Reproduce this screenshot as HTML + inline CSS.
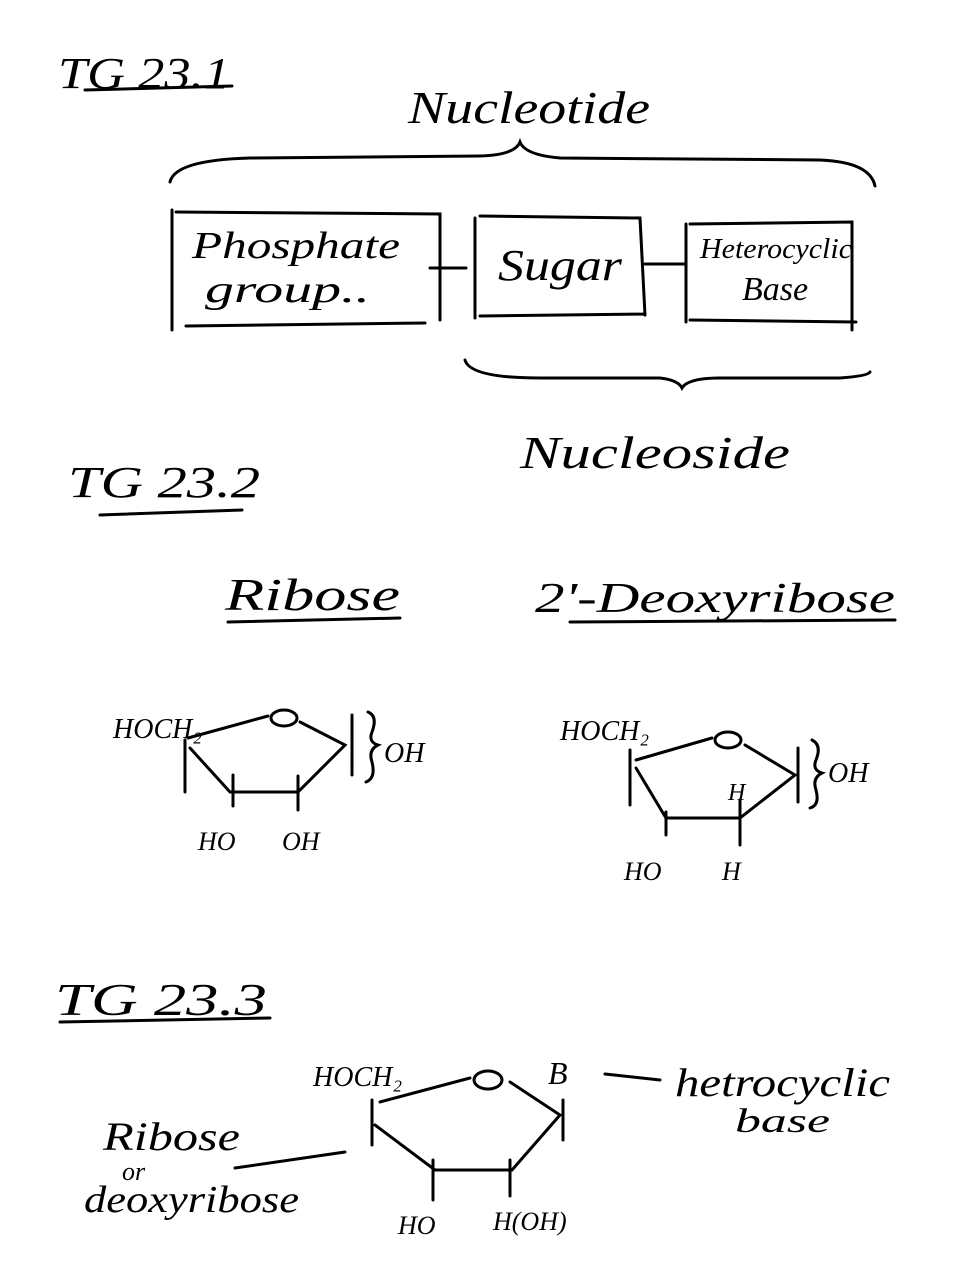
<!DOCTYPE html>
<html><head><meta charset="utf-8"><style>
html,body{margin:0;padding:0;background:#fff;}
svg{display:block;}
text{font-family:"Liberation Serif",serif;font-style:italic;fill:#000;}
</style></head><body>
<svg width="972" height="1284" viewBox="0 0 972 1284" xmlns="http://www.w3.org/2000/svg">
<g stroke="#000" stroke-width="3" fill="none" stroke-linecap="round">
<line x1="85" y1="90" x2="232" y2="86"/>
<path d="M170 182 Q175 160 250 158 L480 156 Q515 155 520 142 Q525 155 560 158 L820 160 Q870 162 875 186"/>
<path d="M172 210 V330 M176 212 L440 214 V320 M186 326 L425 323"/>
<path d="M475 218 V318 M480 216 L640 218 L645 315 M480 316 L645 314"/>
<path d="M686 224 V322 M690 224 L852 222 V330 M690 320 L856 322"/>
<line x1="430" y1="268" x2="466" y2="268"/>
<line x1="645" y1="264" x2="686" y2="264"/>
<path d="M465 360 Q470 378 540 378 L660 378 Q678 380 682 388 Q688 378 720 378 L840 378 Q868 376 870 372"/>
<line x1="100" y1="515" x2="242" y2="510"/>
<line x1="228" y1="622" x2="400" y2="618"/>
<line x1="570" y1="622" x2="895" y2="620"/>
<line x1="188" y1="738" x2="268" y2="716"/>
<path d="M300 722 L345 745 L298 792 L230 792 L190 748"/>
<line x1="185" y1="740" x2="185" y2="792"/>
<line x1="352" y1="715" x2="352" y2="775"/>
<line x1="233" y1="775" x2="233" y2="806"/>
<line x1="298" y1="776" x2="298" y2="810"/>
<path d="M368 712 Q378 716 372 732 Q368 742 378 745 Q368 750 372 762 Q376 778 366 782"/>
<line x1="636" y1="760" x2="712" y2="738"/>
<path d="M745 745 L795 775 L740 818 L666 818 L636 768"/>
<line x1="630" y1="750" x2="630" y2="805"/>
<line x1="798" y1="748" x2="798" y2="802"/>
<line x1="666" y1="812" x2="666" y2="835"/>
<line x1="740" y1="800" x2="740" y2="845"/>
<path d="M812 740 Q822 745 816 760 Q812 770 822 773 Q812 778 816 790 Q820 805 810 808"/>
<line x1="60" y1="1022" x2="270" y2="1018"/>
<line x1="380" y1="1102" x2="470" y2="1078"/>
<path d="M510 1082 L560 1115 L512 1170 L435 1170 L375 1125"/>
<line x1="372" y1="1100" x2="372" y2="1145"/>
<line x1="563" y1="1100" x2="563" y2="1140"/>
<line x1="433" y1="1160" x2="433" y2="1200"/>
<line x1="510" y1="1160" x2="510" y2="1196"/>
<line x1="605" y1="1074" x2="660" y2="1080"/>
<line x1="235" y1="1168" x2="345" y2="1152"/>
<ellipse cx="488" cy="1080" rx="14" ry="9"/>
<ellipse cx="284" cy="718" rx="13" ry="8"/>
<ellipse cx="728" cy="740" rx="13" ry="8"/>
</g>
<text x="58" y="88" font-size="44" textLength="172" lengthAdjust="spacingAndGlyphs">TG 23.1</text>
<text x="408" y="123" font-size="46" textLength="242" lengthAdjust="spacingAndGlyphs">Nucleotide</text>
<text x="192" y="258" font-size="38" textLength="208" lengthAdjust="spacingAndGlyphs">Phosphate</text>
<text x="205" y="302" font-size="38" textLength="165" lengthAdjust="spacingAndGlyphs">group..</text>
<text x="498" y="280" font-size="44" textLength="124" lengthAdjust="spacingAndGlyphs">Sugar</text>
<text x="700" y="258" font-size="28" textLength="152" lengthAdjust="spacingAndGlyphs">Heterocyclic</text>
<text x="742" y="300" font-size="34">Base</text>
<text x="520" y="468" font-size="46" textLength="270" lengthAdjust="spacingAndGlyphs">Nucleoside</text>
<text x="68" y="497" font-size="44" textLength="192" lengthAdjust="spacingAndGlyphs">TG 23.2</text>
<text x="225" y="610" font-size="46" textLength="175" lengthAdjust="spacingAndGlyphs">Ribose</text>
<text x="535" y="612" font-size="42" textLength="360" lengthAdjust="spacingAndGlyphs">2'-Deoxyribose</text>
<text x="113" y="738" font-size="28">HOCH₂</text>
<text x="384" y="762" font-size="28">OH</text>
<text x="198" y="850" font-size="26">HO</text>
<text x="282" y="850" font-size="26">OH</text>
<text x="560" y="740" font-size="28">HOCH₂</text>
<text x="828" y="782" font-size="28">OH</text>
<text x="728" y="800" font-size="24">H</text>
<text x="624" y="880" font-size="26">HO</text>
<text x="722" y="880" font-size="26">H</text>
<text x="55" y="1015" font-size="46" textLength="212" lengthAdjust="spacingAndGlyphs">TG 23.3</text>
<text x="313" y="1086" font-size="28">HOCH₂</text>
<text x="548" y="1084" font-size="32">B</text>
<text x="675" y="1096" font-size="40" textLength="215" lengthAdjust="spacingAndGlyphs">hetrocyclic</text>
<text x="735" y="1132" font-size="34" textLength="95" lengthAdjust="spacingAndGlyphs">base</text>
<text x="103" y="1150" font-size="40" textLength="137" lengthAdjust="spacingAndGlyphs">Ribose</text>
<text x="122" y="1180" font-size="26">or</text>
<text x="84" y="1212" font-size="38" textLength="215" lengthAdjust="spacingAndGlyphs">deoxyribose</text>
<text x="398" y="1234" font-size="26">HO</text>
<text x="493" y="1230" font-size="26">H(OH)</text>
</svg>
</body></html>
